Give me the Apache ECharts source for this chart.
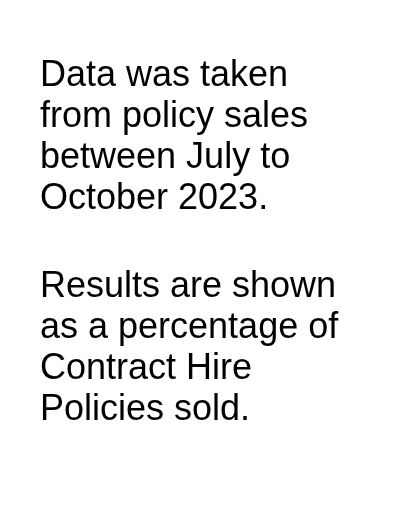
<!DOCTYPE html>
<html>
<head>
<meta charset="utf-8">
<script src="https://cdn.jsdelivr.net/npm/echarts@6/dist/echarts.min.js"></script>
<style>
  html, body { margin: 0; padding: 0; background: #fff; }
  #chart { width: 404px; height: 512px; }
</style>
</head>
<body>
<div id="chart"></div>
<script>
// note text, two paragraphs, one entry per line
const paragraphOne = [
  'Data was taken',
  'from policy sales',
  'between July to',
  'October 2023.'
];
const paragraphTwo = [
  'Results are shown',
  'as a percentage of',
  'Contract Hire',
  'Policies sold.'
];

const textStyle = {
  fontFamily: 'Liberation Sans, Arial, sans-serif',
  fontSize: 36,
  lineHeight: 41.2,
  fill: '#000000'
};

const initChart = () => {
  let element = document.getElementById('chart');
  let myChart = echarts.init(element, null, { renderer: 'canvas' });
  myChart.clear();
  let option;
  option = {
    backgroundColor: '#ffffff',
    animation: false,
    graphic: [{
      type: 'text',
      left: 40,
      top: 55,
      style: Object.assign({ text: paragraphOne.join('\n') }, textStyle)
    }, {
      type: 'text',
      left: 40,
      top: 266,
      style: Object.assign({ text: paragraphTwo.join('\n') }, textStyle)
    }]
  };

  option && myChart.setOption(option);
};

initChart();
</script>
</body>
</html>
